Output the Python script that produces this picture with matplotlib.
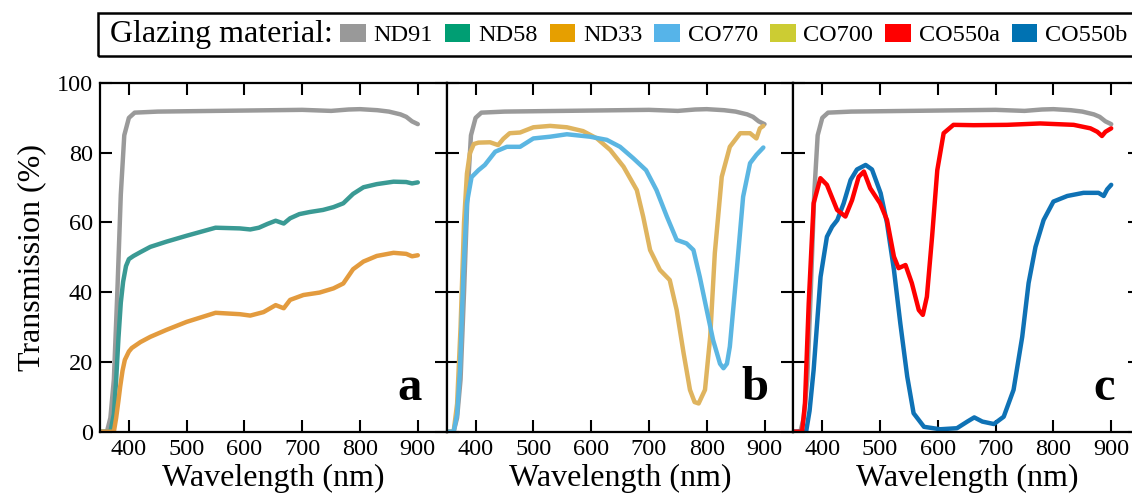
import matplotlib
matplotlib.use("Agg")
import matplotlib.pyplot as plt
from matplotlib.patches import Patch, Rectangle

plt.rcParams['font.family'] = ['Liberation Serif', 'DejaVu Serif']

# ---- data ----
wl_nd91 = [350, 362, 368, 374, 380, 386, 392, 400, 410, 450, 500, 550, 600, 650,
           700, 750, 780, 800, 830, 850, 870, 880, 890, 900]
t_nd91 = [0, 0, 4, 15, 40, 68, 85, 90, 91.5, 91.8, 91.9, 92.0, 92.1, 92.2,
          92.3, 92.0, 92.4, 92.5, 92.2, 91.8, 91.0, 90.3, 89.0, 88.2]

wl_nd58 = [350, 368, 374, 378, 382, 386, 390, 395, 400, 408, 420, 437, 465, 500,
           550, 592, 610, 625, 640, 654, 668, 679, 695, 713, 736, 754, 771, 788,
           806, 829, 858, 880, 890, 900]
t_nd58 = [0, 0, 5, 15, 27, 37, 43, 47.5, 49.5, 50.4, 51.5, 53, 54.5, 56.2,
          58.5, 58.3, 58.0, 58.5, 59.6, 60.5, 59.7, 61.2, 62.4, 63.0, 63.6, 64.4, 65.5, 68.2,
          70.1, 71.0, 71.7, 71.6, 71.2, 71.5]

wl_nd33 = [350, 374, 378, 382, 385, 389, 393, 400, 405, 420, 437, 465, 500, 550,
           592, 610, 633, 654, 668, 679, 702, 730, 754, 771, 788, 806, 829, 858,
           880, 890, 900]
t_nd33 = [0, 0, 4, 9, 13, 17.5, 20.6, 23, 24, 25.7, 27.2, 29.2, 31.5, 34.1,
          33.7, 33.3, 34.3, 36.3, 35.4, 37.8, 39.2, 39.9, 41.1, 42.5, 46.6, 48.8, 50.4, 51.3,
          51.0, 50.3, 50.6]

wl_co700 = [350, 362, 368, 374, 380, 385, 390, 397, 405, 425, 439, 448, 459, 477,
            500, 529, 558, 586, 610, 633, 656, 679, 690, 702, 719, 736, 748, 760,
            771, 779, 786, 797, 806, 814, 826, 840, 858, 875, 886, 892, 898]
t_co700 = [0, 0, 8, 30, 60, 74, 79.8, 82.5, 82.9, 83, 82.2, 84, 85.6, 85.8,
           87.3, 87.7, 87.3, 86.2, 84.1, 80.8, 76, 69.3, 61.7, 52.1, 46.4, 43.5, 34.9, 22.5,
           12, 8.5, 8.1, 12, 27.2, 51.2, 73.1, 81.7, 85.6, 85.6, 84.1, 87, 87.7]

wl_co770 = [350, 362, 368, 373, 379, 385, 393, 405, 416, 434, 454, 477, 500, 529,
            558, 598, 627, 650, 673, 695, 713, 731, 748, 765, 777, 788, 800, 811,
            823, 829, 835, 840, 852, 863, 875, 886, 898]
t_co770 = [0, 0, 5, 17.7, 46, 65.6, 73, 75, 76.5, 80.3, 81.7, 81.7, 84.1, 84.6,
           85.3, 84.6, 83.7, 81.7, 78.4, 75, 69.3, 61.7, 55, 54, 52.1, 44.4, 34.9, 26.3,
           19.5, 18.2, 19.5, 24.4, 46.4, 67.4, 77, 79.4, 81.5]

wl_co550a = [350, 365, 370, 376.5, 385, 396.7, 408, 425.6, 440, 451.5, 463, 472, 483,
             500, 512, 524, 532, 544, 555, 567, 574, 581, 590, 599, 610, 627, 662,
             720, 777, 835, 864, 876, 884, 890, 900]
t_co550a = [0, 0, 8, 36.8, 65.5, 72.7, 70.8, 63.6, 61.7, 66.4, 73.1, 74.6, 69.8,
            65.5, 60.7, 50.2, 46.9, 47.8, 42.6, 34.9, 33.5, 38.7, 55.9, 75, 85.6, 88, 87.9,
            88, 88.4, 88, 87, 86, 84.8, 86, 87]

wl_co550b = [350, 372, 378, 385, 397, 408, 417, 426, 437, 449, 460, 475, 486, 501,
             512, 524, 535, 547, 558, 576, 604, 633, 651, 663, 677, 697, 714, 731,
             746, 757, 769, 783, 800, 824, 852, 878, 887, 893, 900]
t_co550b = [0, 0, 6, 17.7, 44.4, 55.9, 58.8, 60.7, 65.5, 72.2, 75.2, 76.5, 75.2, 68.4,
            59.8, 46.4, 31.1, 15.8, 5.3, 1.4, 0.7, 1, 2.9, 4.1, 2.9, 2.2, 4.3, 12,
            27.2, 42.6, 53, 60.7, 66, 67.6, 68.5, 68.5, 67.6, 69.5, 70.8]

legend_names = ['ND91', 'ND58', 'ND33', 'CO770', 'CO700', 'CO550a', 'CO550b']
legend_colors = ['#999999', '#009E73', '#E69F00', '#56B4E9', '#CCCC33', '#FF0000', '#0072B2']

# colours of the curves as they appear in the panels
c_gray = '#9a9a9a'
c_teal = '#3a9a94'
c_orange = '#e39b3e'
c_tan = '#dfb45f'
c_sky = '#5bb6e2'
c_red = '#ff0000'
c_blue = '#0f72b5'

panels = [
    ('a', [(wl_nd91, t_nd91, c_gray), (wl_nd58, t_nd58, c_teal), (wl_nd33, t_nd33, c_orange)]),
    ('b', [(wl_nd91, t_nd91, c_gray), (wl_co700, t_co700, c_tan), (wl_co770, t_co770, c_sky)]),
    ('c', [(wl_nd91, t_nd91, c_gray), (wl_co550b, t_co550b, c_blue), (wl_co550a, t_co550a, c_red)]),
]

W, H = 1132, 500
fig = plt.figure(figsize=(W / 100, H / 100), dpi=100)

left0, top_px, bot_px, pw = 100, 83, 431.7, 346.7
for i, (letter, curves) in enumerate(panels):
    l = left0 + i * pw
    ax = fig.add_axes([l / W, 1 - bot_px / H, pw / W, (bot_px - top_px) / H])
    for x, y, c in curves:
        ax.plot(x, y, color=c, lw=3.2, solid_joinstyle='round', solid_capstyle='round')
    ax.set_xlim(350, 950)
    ax.set_ylim(0, 100)
    ax.set_xticks([400, 500, 600, 700, 800, 900])
    ax.set_yticks([0, 20, 40, 60, 80, 100])
    ax.tick_params(direction='in', length=8.5, width=1.5, top=True, right=True,
                   labelsize=17.5, pad=5)
    for s in ax.spines.values():
        s.set_linewidth(1.6)
    if i > 0:
        ax.tick_params(labelleft=False)
    else:
        ax.set_ylabel('Transmission (%)', fontsize=23, labelpad=8)
    ax.set_xlabel('Wavelength (nm)', fontsize=23, labelpad=3)
    ax.text(907, 9, letter, fontsize=35, fontweight='bold', ha='right', va='baseline')

# legend bar on top
fig.patches.append(Rectangle((98 / W, 1 - 56 / H), 1.2, 43 / H, transform=fig.transFigure,
                             fill=False, edgecolor='black', lw=1.8))
fig.text(110 / W, 1 - 34.5 / H, 'Glazing material:', fontsize=23, va='center', ha='left')
handles = [Patch(facecolor=c, edgecolor='none') for c in legend_colors]
fig.legend(handles, legend_names, ncol=7, loc='center left',
           bbox_to_anchor=(340 / W, 1 - 35 / H), frameon=False, fontsize=17.5,
           handlelength=1.05, handleheight=0.8, handletextpad=0.32,
           columnspacing=0.5, borderpad=0, borderaxespad=0)

fig.savefig('out.png', dpi=100)
